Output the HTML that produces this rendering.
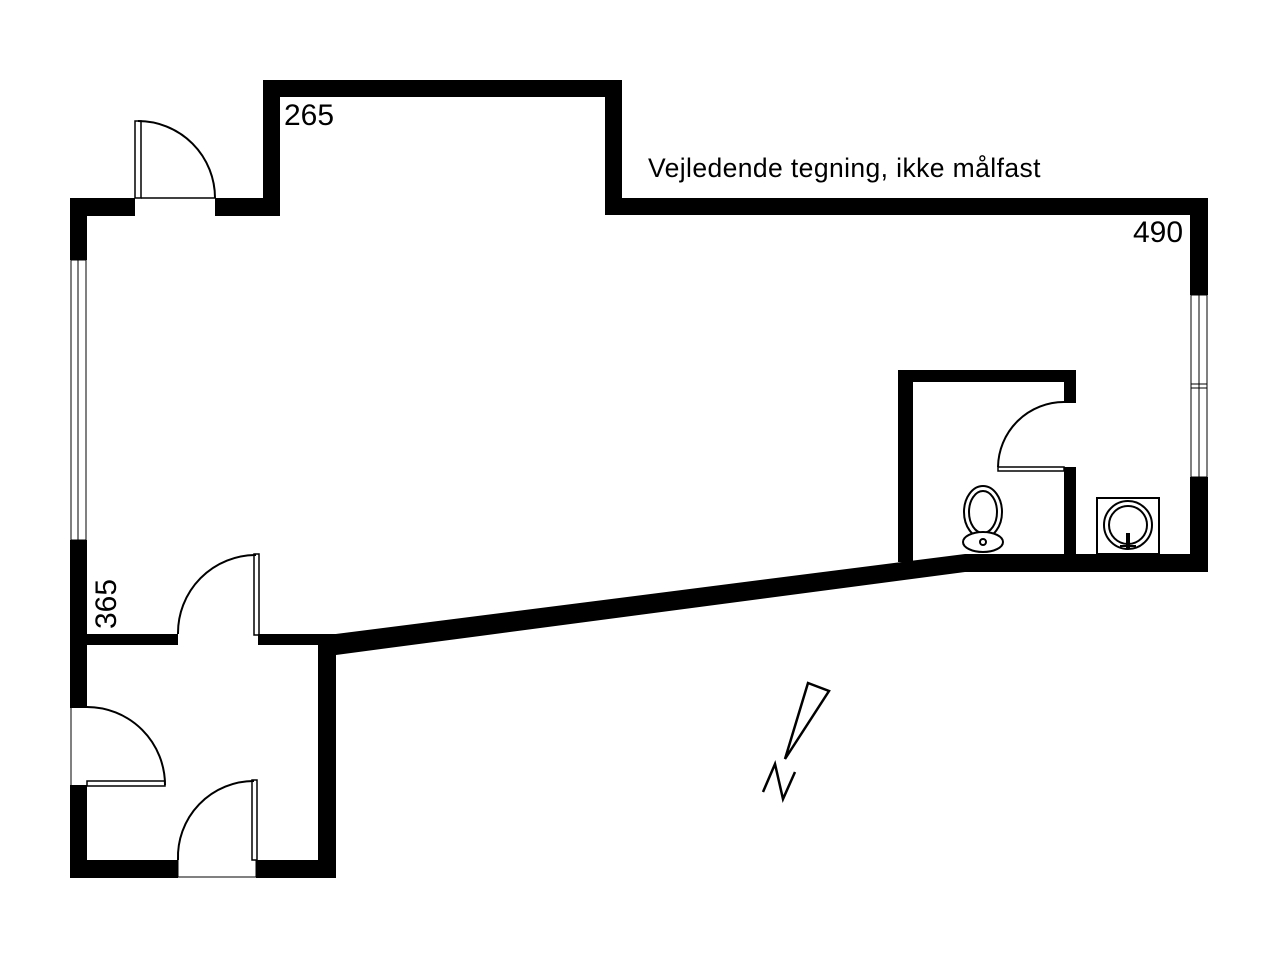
<!DOCTYPE html>
<html><head><meta charset="utf-8"><style>html,body{margin:0;padding:0;background:#fff}svg{display:block}</style></head>
<body>
<svg width="1280" height="960" viewBox="0 0 1280 960" xmlns="http://www.w3.org/2000/svg">
<rect width="1280" height="960" fill="#fff"/>
<g fill="#000">
<rect x="70" y="198" width="65" height="18"/>
<rect x="215" y="198" width="65" height="18"/>
<rect x="70" y="198" width="17" height="62"/>
<rect x="70" y="540" width="17" height="168"/>
<rect x="70" y="785" width="17" height="93"/>
<rect x="263" y="80" width="17" height="136"/>
<rect x="263" y="80" width="359" height="17"/>
<rect x="605" y="80" width="17" height="135"/>
<rect x="605" y="198" width="603" height="17"/>
<rect x="1190" y="198" width="18" height="97"/>
<rect x="1190" y="477" width="18" height="95"/>
<rect x="965" y="554" width="243" height="18"/>
<polygon points="965,554 965,572 336,655 320,636"/>
<rect x="87" y="634" width="91" height="11"/>
<rect x="258" y="634" width="78" height="11"/>
<rect x="318" y="634" width="18" height="244"/>
<rect x="70" y="860" width="108" height="18"/>
<rect x="256" y="860" width="80" height="18"/>
<rect x="898" y="370" width="15" height="192"/>
<rect x="898" y="370" width="178" height="12"/>
<rect x="1064" y="370" width="12" height="33"/>
<rect x="1064" y="467" width="12" height="90"/>
</g>
<g fill="none" stroke="#000" stroke-width="2">
<rect x="71" y="260" width="15" height="280" stroke-width="1"/>
<line x1="78" y1="260" x2="78" y2="540" stroke-width="1"/>
<rect x="1191" y="295" width="16" height="182" stroke-width="1"/>
<line x1="1199" y1="295" x2="1199" y2="477" stroke-width="1"/>
<line x1="1191" y1="384" x2="1207" y2="384" stroke-width="1"/>
<line x1="1191" y1="388" x2="1207" y2="388" stroke-width="1"/>
<rect x="135" y="121" width="6" height="77" stroke-width="1.5"/>
<path d="M138 121 A77 77 0 0 1 215 198"/>
<line x1="141" y1="198" x2="215" y2="198" stroke-width="1.5"/>
<rect x="254" y="554" width="5" height="81" stroke-width="1.5"/>
<path d="M256 555 A78 78 0 0 0 178 634"/>
<rect x="87" y="781" width="78" height="5" stroke-width="1.5"/>
<path d="M87 707 A78 78 0 0 1 165 785"/>
<line x1="71" y1="707" x2="87" y2="707" stroke-width="1"/>
<line x1="71" y1="707" x2="71" y2="786" stroke-width="1"/>
<rect x="252" y="780" width="5" height="80" stroke-width="1.5"/>
<path d="M254 781 A76 76 0 0 0 178 860"/>
<line x1="178" y1="877" x2="256" y2="877" stroke-width="1"/>
<line x1="178" y1="860" x2="178" y2="877" stroke-width="1"/>
<line x1="256" y1="860" x2="256" y2="877" stroke-width="1"/>
<path d="M1064 402 A66 66 0 0 0 998 467"/>
<rect x="998" y="467" width="66" height="4" stroke-width="1.5"/>
<ellipse cx="983" cy="512" rx="19" ry="26"/>
<ellipse cx="983" cy="512" rx="14" ry="21"/>
<ellipse cx="983" cy="542" rx="20" ry="10" fill="#fff"/>
<circle cx="983" cy="542" r="3"/>
<rect x="1097" y="498" width="62" height="56"/>
<circle cx="1128" cy="525" r="24"/>
<circle cx="1128" cy="525" r="19"/>
<line x1="1128" y1="533" x2="1128" y2="548" stroke-width="4"/>
<line x1="1120" y1="546" x2="1136" y2="546"/>
<polygon points="808,683 829,691 785,759" stroke-width="2.5"/>
<polyline points="763,792 775,764 783,799 795,772" stroke-width="2.5"/>
</g>
<g font-family="Liberation Sans, sans-serif" fill="#000">
<text x="284" y="125" font-size="30">265</text>
<text x="1133" y="242" font-size="30">490</text>
<text x="648" y="177" font-size="26.5" letter-spacing="0.4">Vejledende tegning, ikke målfast</text>
<text transform="translate(116,629) rotate(-90)" font-size="30">365</text>
</g>
</svg>
</body></html>
